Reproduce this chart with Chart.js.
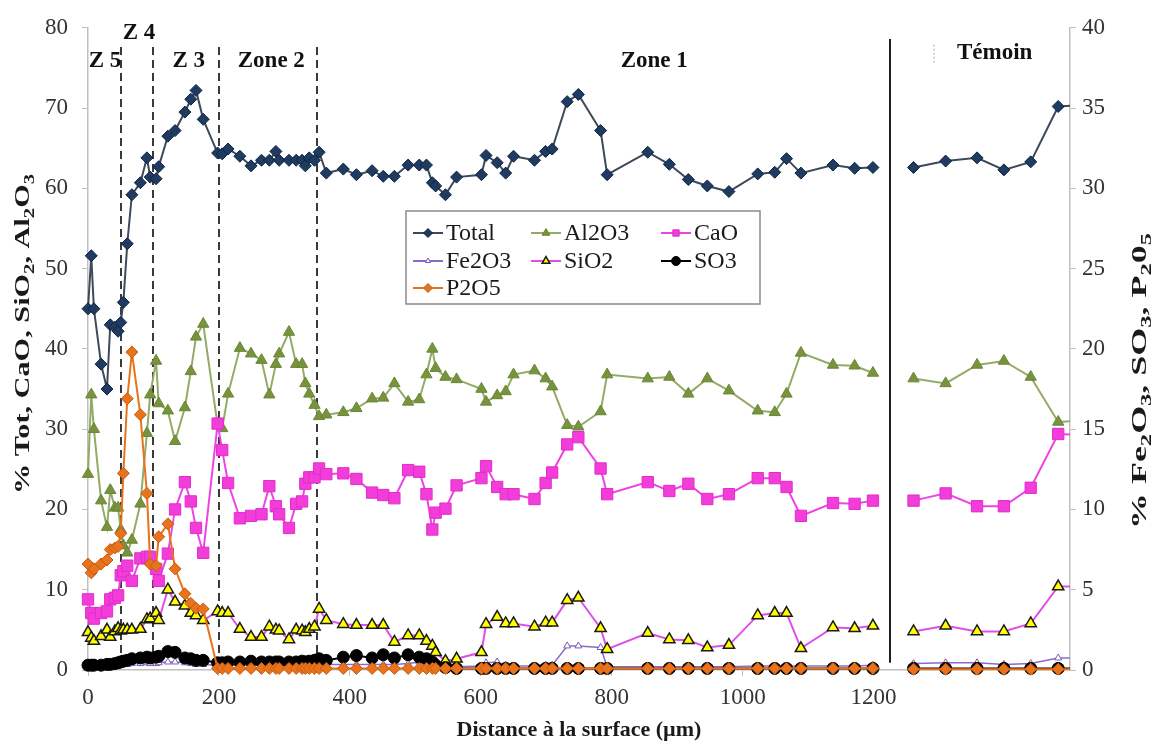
<!DOCTYPE html>
<html>
<head>
<meta charset="utf-8">
<script src="https://cdn.jsdelivr.net/npm/chart.js@4.4.1/dist/chart.umd.min.js"></script>
<style>
  html, body { margin: 0; padding: 0; background: #fff; }
  #wrap { width: 1155px; height: 746px; position: relative; }
</style>
</head>
<body>
<div id="wrap"><canvas id="profil"></canvas></div>
<script>
// distance to the surface (µm) of each analysed point, zones 5 -> 1
const distance = [
  0, 5, 9, 20, 29, 34, 41, 46, 50, 54,
  60, 67, 80, 90, 95, 104, 108, 122, 133, 148,
  157, 165, 176, 198, 205, 214, 232, 249, 265, 277,
  287, 292, 307, 318, 327, 332, 338, 346, 353, 364,
  390, 410, 434, 451, 468, 489, 506, 517, 526, 531,
  546, 563, 601, 608, 625, 638, 650, 682, 699, 709,
  732, 749, 783, 793, 855, 888, 917, 946, 979, 1023,
  1049, 1067, 1089, 1138, 1171, 1199
];

// left axis series (%)
const total = [
  45.0, 51.6, 45.0, 38.1, 35.0, 43.0, 42.7, 42.2, 43.3, 45.8,
  53.1, 59.2, 60.7, 63.8, 61.4, 61.2, 62.7, 66.5, 67.2, 69.5,
  71.1, 72.2, 68.6, 64.4, 64.3, 64.9, 64.0, 62.8, 63.5, 63.5,
  64.6, 63.5, 63.5, 63.5, 63.5, 62.8, 63.8, 63.5, 64.5, 61.9,
  62.4, 61.7, 62.2, 61.5, 61.5, 62.9, 62.9, 62.9, 60.7, 60.3,
  59.2, 61.4, 61.7, 64.1, 63.2, 61.9, 64.0, 63.5, 64.6, 64.9,
  70.8, 71.7, 67.2, 61.7, 64.5, 63.0, 61.1, 60.3, 59.6, 61.8,
  62.0, 63.7, 61.9, 62.9, 62.5, 62.6
];
const al2o3 = [
  24.4, 34.3, 30.0, 21.1, 17.8, 22.4, 20.2, 20.2, 17.5, 15.5,
  14.6, 16.2, 20.7, 29.5, 34.3, 38.5, 33.2, 32.3, 28.5, 32.7,
  37.2, 41.5, 43.1, 30.5, 30.1, 34.4, 40.1, 39.4, 38.6, 34.3,
  38.1, 39.4, 42.1, 38.1, 38.1, 35.7, 34.4, 33.0, 31.6, 31.8,
  32.1, 32.6, 33.8, 33.9, 35.7, 33.4, 33.7, 36.8, 40.0, 37.6,
  36.5, 36.2, 35.0, 33.4, 34.2, 34.7, 36.8, 37.3, 36.3, 35.3,
  30.5, 30.3, 32.2, 36.8, 36.3, 36.5, 34.4, 36.3, 34.8, 32.3,
  32.1, 34.4, 39.5, 38.0, 37.9, 37.0
];
const cao = [
  8.8, 7.1, 6.4, 7.1, 7.3, 8.8, 9.0, 9.3, 11.8, 12.3,
  13.0, 11.1, 13.9, 14.1, 14.1, 12.6, 11.1, 14.5, 20.0, 23.4,
  21.0, 17.7, 14.6, 30.7, 27.4, 23.3, 18.9, 19.2, 19.4, 22.9,
  20.4, 19.4, 17.7, 20.7, 21.0, 23.2, 24.0, 24.0, 25.1, 24.4,
  24.5, 23.8, 22.1, 21.8, 21.4, 24.9, 24.7, 21.9, 17.5, 19.6,
  20.1, 23.0, 23.9, 25.4, 22.8, 21.9, 21.9, 21.3, 23.3, 24.6,
  28.1, 29.0, 25.1, 21.9, 23.4, 22.3, 23.2, 21.3, 21.9, 23.9,
  23.9, 22.8, 19.2, 20.8, 20.7, 21.1
];
const sio2 = [
  4.7, 4.0, 3.6, 4.2, 5.0, 4.1, 4.8, 5.2, 4.9, 5.0,
  5.0, 5.0, 5.1, 6.3, 6.4, 7.1, 6.2, 10.0, 8.5, 8.0,
  7.1, 6.8, 6.2, 7.3, 7.1, 7.1, 5.1, 4.1, 4.1, 5.4,
  5.0, 4.9, 3.8, 5.0, 4.9, 4.7, 5.1, 5.4, 7.6, 6.2,
  5.7, 5.6, 5.6, 5.6, 3.5, 4.3, 4.3, 3.6, 3.0, 2.2,
  1.1, 1.4, 2.2, 5.7, 6.6, 5.8, 5.8, 5.4, 5.9, 5.9,
  8.7, 9.0, 5.2, 2.6, 4.6, 3.8, 3.7, 2.8, 3.1, 6.8,
  7.1, 7.1, 2.7, 5.3, 5.2, 5.5
];

// right axis series (%)
const fe2o3 = [
  0.25, 0.25, 0.25, 0.25, 0.25, 0.3, 0.3, 0.3, 0.35, 0.35,
  0.35, 0.4, 0.4, 0.45, 0.4, 0.4, 0.45, 0.5, 0.5, 0.45,
  0.4, 0.35, 0.35, 0.3, 0.3, 0.3, 0.3, 0.3, 0.3, 0.3,
  0.3, 0.3, 0.3, 0.3, 0.3, 0.3, 0.3, 0.3, 0.35, 0.35,
  0.35, 0.35, 0.35, 0.35, 0.35, 0.4, 0.5, 0.45, 0.3, 0.2,
  0.2, 0.2, 0.25, 0.45, 0.5, 0.3, 0.25, 0.25, 0.3, 0.3,
  1.5, 1.5, 1.4, 0.2, 0.2, 0.2, 0.2, 0.2, 0.2, 0.25,
  0.25, 0.25, 0.25, 0.25, 0.25, 0.3
];
const so3 = [
  0.3, 0.3, 0.3, 0.3, 0.35, 0.35, 0.4, 0.45, 0.5, 0.55,
  0.6, 0.7, 0.75, 0.8, 0.75, 0.8, 0.85, 1.15, 1.1, 0.75,
  0.7, 0.6, 0.6, 0.45, 0.45, 0.5, 0.5, 0.55, 0.5, 0.5,
  0.5, 0.5, 0.5, 0.5, 0.55, 0.5, 0.55, 0.6, 0.7, 0.6,
  0.8, 0.9, 0.75, 0.95, 0.75, 0.95, 0.8, 0.7, 0.5, 0.3,
  0.15, 0.1, 0.1, 0.1, 0.1, 0.1, 0.1, 0.1, 0.1, 0.1,
  0.1, 0.1, 0.1, 0.1, 0.1, 0.1, 0.1, 0.1, 0.1, 0.1,
  0.1, 0.1, 0.1, 0.1, 0.1, 0.1
];
const p2o5 = [
  6.6, 6.05, 6.3, 6.6, 6.85, 7.5, 7.6, 7.7, 8.5, 12.25,
  16.9, 19.8, 15.9, 11.0, 6.6, 6.5, 8.3, 9.1, 6.3, 4.75,
  4.15, 3.85, 3.8, 0.1, 0.1, 0.1, 0.1, 0.1, 0.1, 0.1,
  0.1, 0.1, 0.1, 0.1, 0.1, 0.1, 0.1, 0.1, 0.1, 0.1,
  0.1, 0.1, 0.1, 0.1, 0.1, 0.1, 0.1, 0.1, 0.1, 0.1,
  0.1, 0.1, 0.1, 0.1, 0.1, 0.1, 0.1, 0.1, 0.1, 0.1,
  0.1, 0.1, 0.1, 0.1, 0.1, 0.1, 0.1, 0.1, 0.1, 0.1,
  0.1, 0.1, 0.1, 0.1, 0.1, 0.1
];

// reference sample (Témoin); the last point lies past the axis end
const temoinDistance = [1261, 1310, 1358, 1399, 1440, 1482, 1530];
const temoinTotal = [62.6, 63.4, 63.8, 62.3, 63.3, 70.2, 70.4];
const temoinAl2o3 = [36.3, 35.7, 38.0, 38.5, 36.5, 30.9, 31.1];
const temoinCao = [21.1, 22.0, 20.4, 20.4, 22.7, 29.4, 29.2];
const temoinSio2 = [4.8, 5.5, 4.8, 4.8, 5.8, 10.4, 10.4];
const temoinFe2o3 = [0.4, 0.45, 0.45, 0.35, 0.4, 0.75, 0.75];
const temoinSo3 = [0.1, 0.1, 0.1, 0.1, 0.1, 0.1, 0.1];
const temoinP2o5 = [0.05, 0.05, 0.05, 0.05, 0.05, 0.05, 0.05];

// zone boundaries (µm) and labels
const zoneBounds = [50, 100, 200, 350];
const temoinBound = 1225;
const zoneNames = ['Z 5', 'Z 4', 'Z 3', 'Zone 2', 'Zone 1', 'Témoin'];
const zoneLabelX = [26, 78, 154, 280, 865, 1385];
const zoneLabelY = [75.9, 79.3, 75.9, 75.9, 75.9, 76.8];

const xTicksShown = [0, 200, 400, 600, 800, 1000, 1200];

const serif = "'Liberation Serif', 'Times New Roman', serif";

const toPoints = (zone, temoin) => [
  ...distance.map((x, i) => ({ x, y: zone[i] })),
  { x: temoinBound, y: null },
  ...temoinDistance.map((x, i) => ({ x, y: temoin[i] })),
];

const common = {
  borderWidth: 2,
  pointBorderWidth: 1,
  tension: 0,
  clip: { left: 10, top: 10, right: 0, bottom: 10 },
};

const datasets = [
  { ...common, label: 'Total', data: toPoints(total, temoinTotal), yAxisID: 'y',
    borderColor: '#3e4959', backgroundColor: '#1f3b62', pointBorderColor: '#0e2340',
    pointStyle: 'rectRot', pointRadius: 6, order: 7 },
  { ...common, label: 'Al2O3', data: toPoints(al2o3, temoinAl2o3), yAxisID: 'y',
    borderColor: '#93ab66', backgroundColor: '#77933c', pointBorderColor: '#6b8636',
    pointStyle: 'triangle', pointRadius: 6.5, order: 6 },
  { ...common, label: 'CaO', data: toPoints(cao, temoinCao), yAxisID: 'y',
    borderColor: '#ee44e6', backgroundColor: '#f23dd9', pointBorderColor: '#e22ccd',
    pointStyle: 'rect', pointRadius: 8, order: 5 },
  { ...common, label: 'Fe2O3', data: toPoints(fe2o3, temoinFe2o3), yAxisID: 'y1',
    borderColor: '#8a6cc8', backgroundColor: '#ffffff', pointBorderColor: '#7a5ab8',
    pointStyle: 'triangle', pointRadius: 4, borderWidth: 1.5, order: 4 },
  { ...common, label: 'SiO2', data: toPoints(sio2, temoinSio2), yAxisID: 'y',
    borderColor: '#e050e6', backgroundColor: '#ffff00', pointBorderColor: '#1a1a1a',
    pointStyle: 'triangle', pointRadius: 6.5, pointBorderWidth: 1.5, order: 3 },
  { ...common, label: 'SO3', data: toPoints(so3, temoinSo3), yAxisID: 'y1',
    borderColor: '#000000', backgroundColor: '#000000', pointBorderColor: '#000000',
    pointStyle: 'circle', pointRadius: 6, order: 2 },
  { ...common, label: 'P2O5', data: toPoints(p2o5, temoinP2o5), yAxisID: 'y1',
    borderColor: '#e8731c', backgroundColor: '#e8731c', pointBorderColor: '#c45c12',
    pointStyle: 'rectRot', pointRadius: 6, order: 1 },
];

// draws a string made of [text, isSubscript] parts, centred on the origin,
// stretched along its length to the given span
function drawRich(ctx, parts, size, span) {
  const main = `bold ${size}px ${serif}`;
  const sub = `bold ${Math.round(size * 0.66)}px ${serif}`;
  let w = 0;
  parts.forEach(([t, s]) => { ctx.font = s ? sub : main; w += ctx.measureText(t).width; });
  ctx.scale(span / w, 1);
  let x = -w / 2;
  const base = size * 0.34;
  parts.forEach(([t, s]) => {
    ctx.font = s ? sub : main;
    ctx.fillText(t, x, s ? base + size * 0.22 : base);
    x += ctx.measureText(t).width;
  });
}

const leftTitle = [['% Tot, CaO, SiO', 0], ['2', 1], [', Al', 0], ['2', 1], ['O', 0], ['3', 1]];
const rightTitle = [['% Fe', 0], ['2', 1], ['O', 0], ['3', 1], [', SO', 0], ['3', 1], [', P', 0], ['2', 1], ['0', 0], ['5', 1]];

const zonePlugin = {
  id: 'zones',
  beforeDatasetsDraw(chart) {
    const { ctx, scales: { x, y } } = chart;
    ctx.save();
    ctx.strokeStyle = '#3a3a3a';
    ctx.lineWidth = 2;
    ctx.setLineDash([8, 5]);
    zoneBounds.forEach(b => {
      const px = Math.round(x.getPixelForValue(b));
      ctx.beginPath();
      ctx.moveTo(px, y.getPixelForValue(77.6));
      ctx.lineTo(px, y.getPixelForValue(0));
      ctx.stroke();
    });
    ctx.setLineDash([]);
    ctx.strokeStyle = '#1e1e1e';
    const tx = Math.round(x.getPixelForValue(temoinBound));
    ctx.beginPath();
    ctx.moveTo(tx, y.getPixelForValue(78.6));
    ctx.lineTo(tx, y.getPixelForValue(0.9));
    ctx.stroke();
    // small dotted mark before the Témoin label
    ctx.strokeStyle = '#c4c4c4';
    ctx.lineWidth = 1.5;
    ctx.setLineDash([2, 2]);
    const dx = Math.round(x.getPixelForValue(1292));
    ctx.beginPath();
    ctx.moveTo(dx, y.getPixelForValue(77.9));
    ctx.lineTo(dx, y.getPixelForValue(75.6));
    ctx.stroke();
    ctx.restore();
  },
  afterDraw(chart) {
    const { ctx, scales: { x, y } } = chart;
    ctx.save();
    ctx.fillStyle = '#111';
    ctx.font = `bold 23px ${serif}`;
    ctx.textAlign = 'center';
    ctx.textBaseline = 'middle';
    zoneNames.forEach((name, i) => {
      ctx.fillText(name, x.getPixelForValue(zoneLabelX[i]), y.getPixelForValue(zoneLabelY[i]));
    });

    // axis titles with subscripts, both reading upwards
    ctx.textAlign = 'left';
    ctx.textBaseline = 'alphabetic';
    ctx.fillStyle = '#1a1a1a';
    ctx.save();
    ctx.translate(22, 334);
    ctx.rotate(-Math.PI / 2);
    drawRich(ctx, leftTitle, 22, 320);
    ctx.restore();
    ctx.save();
    ctx.translate(1139, 381);
    ctx.rotate(-Math.PI / 2);
    drawRich(ctx, rightTitle, 22, 296);
    ctx.restore();

    // legend box
    const box = { left: 406, top: 211, width: 354, height: 93 };
    const cols = [413, 531, 661];
    const rows = [233, 261, 288];
    ctx.fillStyle = '#fff';
    ctx.fillRect(box.left, box.top, box.width, box.height);
    ctx.strokeStyle = '#8a8a8a';
    ctx.lineWidth = 1.5;
    ctx.strokeRect(box.left, box.top, box.width, box.height);
    ctx.textBaseline = 'middle';
    chart.data.datasets.forEach((ds, i) => {
      const lx = cols[i % 3];
      const ly = rows[Math.floor(i / 3)];
      ctx.strokeStyle = ds.borderColor;
      ctx.lineWidth = 2;
      ctx.beginPath();
      ctx.moveTo(lx, ly);
      ctx.lineTo(lx + 30, ly);
      ctx.stroke();
      ctx.fillStyle = ds.backgroundColor;
      ctx.strokeStyle = ds.pointBorderColor;
      ctx.lineWidth = ds.pointBorderWidth;
      Chart.helpers.drawPoint(ctx, {
        pointStyle: ds.pointStyle,
        radius: Math.min(ds.pointRadius, 6) * 0.75,
        rotation: 0,
        borderWidth: ds.pointBorderWidth,
      }, lx + 15, ly);
      ctx.fillStyle = '#1a1a1a';
      ctx.font = `24px ${serif}`;
      ctx.fillText(ds.label, lx + 33, ly + 1);
    });
    ctx.restore();
  },
};

const axisGrey = '#bfbfbf';
const tickFont = { family: serif, size: 23 };

new Chart(document.getElementById('profil'), {
  type: 'line',
  data: { datasets },
  options: {
    responsive: true,
    maintainAspectRatio: false,
    animation: false,
    layout: { padding: { top: 24, left: 0, right: 0, bottom: 0 } },
    plugins: {
      legend: { display: false },
      tooltip: { enabled: false },
    },
    scales: {
      x: {
        type: 'linear',
        min: 0,
        max: 1500,
        afterFit: s => { s.height = 76; },
        ticks: {
          stepSize: 200,
          includeBounds: false,
          maxRotation: 0,
          autoSkip: false,
          padding: 8,
          color: '#333',
          font: tickFont,
          callback: v => (xTicksShown.includes(v) ? v : ''),
        },
        grid: { drawOnChartArea: false, color: axisGrey, tickLength: 6 },
        border: { color: axisGrey, width: 1.5 },
        title: {
          display: true,
          text: 'Distance à la surface (µm)',
          color: '#1a1a1a',
          font: { family: serif, size: 22, weight: 'bold' },
          padding: { top: 0, bottom: 2 },
        },
      },
      y: {
        position: 'left',
        min: 0,
        max: 80,
        afterFit: s => { s.width = 88; },
        ticks: { stepSize: 10, padding: 14, color: '#333', font: tickFont },
        grid: { drawOnChartArea: false, color: axisGrey, tickLength: 6 },
        border: { color: axisGrey, width: 1.5 },
      },
      y1: {
        position: 'right',
        min: 0,
        max: 40,
        afterFit: s => { s.width = 85; },
        ticks: { stepSize: 5, padding: 6, color: '#333', font: tickFont },
        grid: { drawOnChartArea: false, color: axisGrey, tickLength: 6 },
        border: { color: axisGrey, width: 1.5 },
      },
    },
  },
  plugins: [zonePlugin],
});
</script>
</body>
</html>
